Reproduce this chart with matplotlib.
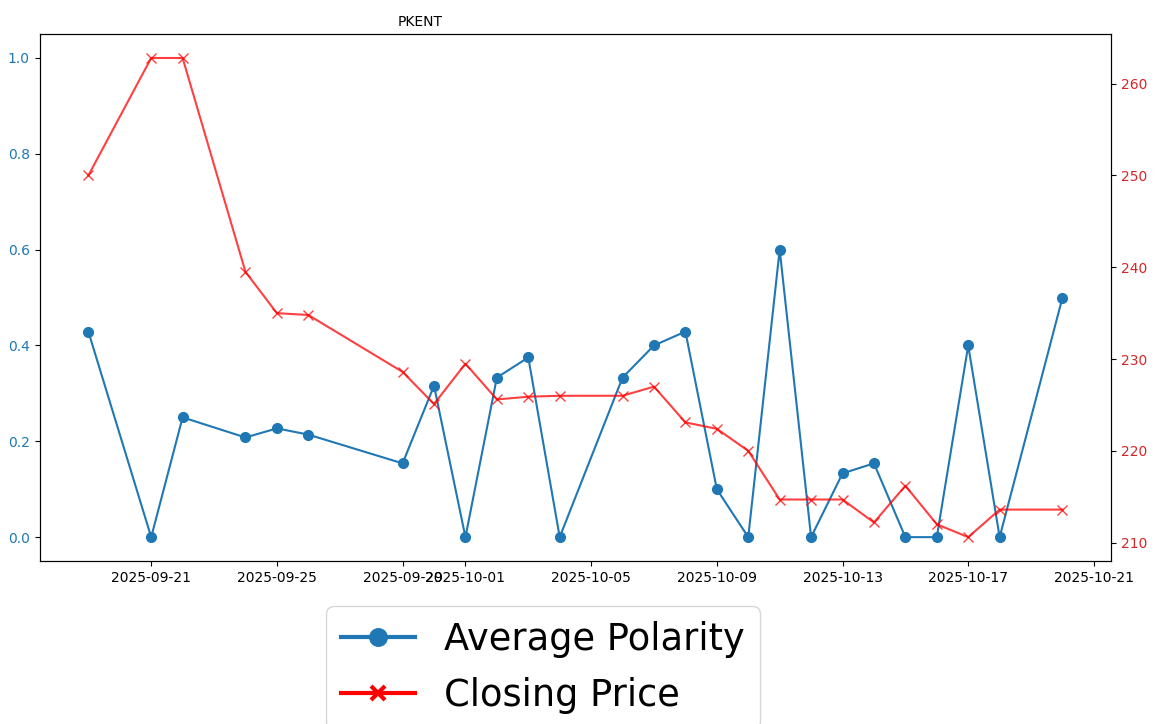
import matplotlib
matplotlib.use('Agg')
import matplotlib.pyplot as plt
import pandas as pd

dates = ['2025-09-19', '2025-09-21', '2025-09-22', '2025-09-24', '2025-09-25',
         '2025-09-26', '2025-09-29', '2025-09-30', '2025-10-01', '2025-10-02',
         '2025-10-03', '2025-10-04', '2025-10-06', '2025-10-07', '2025-10-08',
         '2025-10-09', '2025-10-10', '2025-10-11', '2025-10-12', '2025-10-13',
         '2025-10-14', '2025-10-15', '2025-10-16', '2025-10-17', '2025-10-18',
         '2025-10-20']
polarity = [0.429, 0.0, 0.25, 0.208, 0.227,
            0.214, 0.154, 0.316, 0.0, 0.333,
            0.375, 0.0, 0.333, 0.4, 0.429,
            0.1, 0.0, 0.6, 0.0, 0.133,
            0.154, 0.0, 0.0, 0.4, 0.0,
            0.5]
closing = [250.0, 262.8, 262.8, 239.5, 235.0,
           234.8, 228.6, 225.1, 229.5, 225.6,
           225.9, 226.0, 226.0, 227.0, 223.1,
           222.4, 220.0, 214.7, 214.7, 214.7,
           212.2, 216.2, 212.0, 210.6, 213.6,
           213.6]

x = pd.to_datetime(dates)

fig, ax1 = plt.subplots(figsize=(11.66, 7.24), dpi=100)
fig.subplots_adjust(left=0.034, right=0.953, top=0.953, bottom=0.225)

l1, = ax1.plot(x, polarity, color='tab:blue', marker='o', markersize=7,
               linewidth=1.5, label='Average Polarity')
ax1.set_ylim(-0.05, 1.05)
ax1.tick_params(axis='y', labelcolor='tab:blue')

ax2 = ax1.twinx()
l2, = ax2.plot(x, closing, color='red', marker='x', markersize=7,
               linewidth=1.5, alpha=0.75, label='Closing Price')
ax2.tick_params(axis='y', labelcolor='tab:red')

ax1.set_title('PKENT', x=0.355, fontsize=10)

leg = fig.legend([l1, l2], ['Average Polarity', 'Closing Price'],
                 loc='upper center', bbox_to_anchor=(543 / 1166, 1 - 588 / 724),
                 fontsize=26.5, markerscale=1.8)
for h in leg.legend_handles:
    h.set_linewidth(3)
    h.set_alpha(1)
# thicker, smaller cross in the legend like the original
leg.legend_handles[1].set_markersize(10)
leg.legend_handles[1].set_markeredgewidth(3)

fig.savefig('out.png', dpi=100)
